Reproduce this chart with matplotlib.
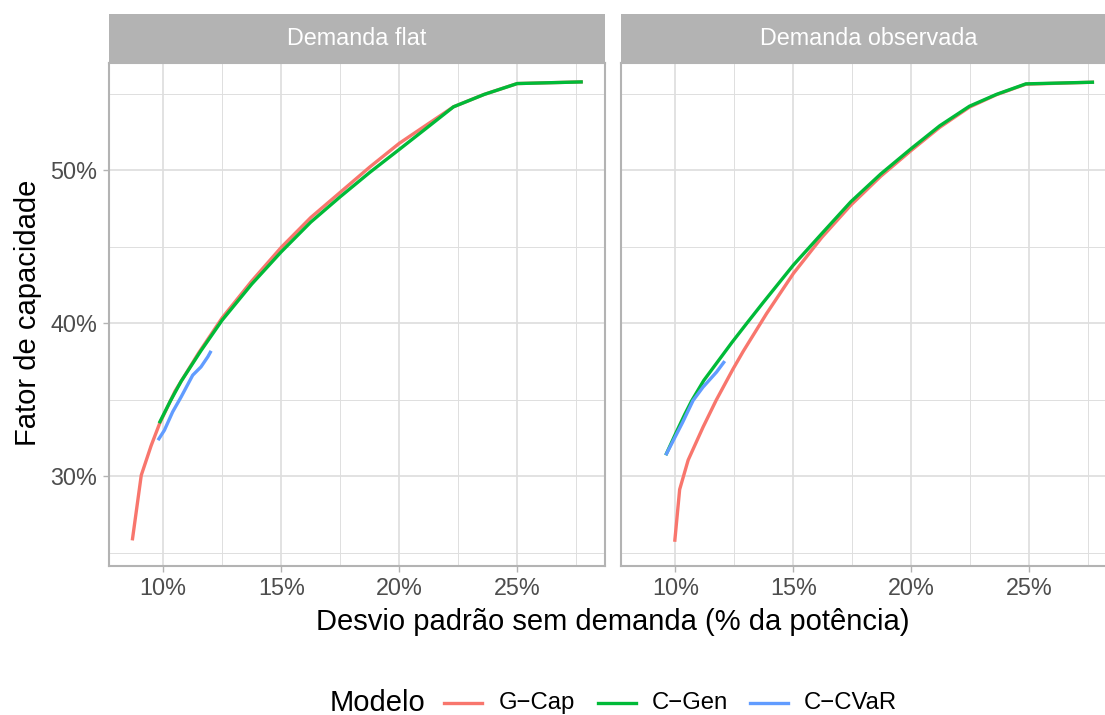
import matplotlib
matplotlib.use("Agg")
import matplotlib.pyplot as plt
from matplotlib.lines import Line2D
from matplotlib.ticker import FuncFormatter, FixedLocator

plt.rcParams['font.family'] = ['Liberation Sans', 'DejaVu Sans']

# ---- data -------------------------------------------------------------
panels = ["Demanda flat", "Demanda observada"]
modelos = ["G\u2212Cap", "C\u2212Gen", "C\u2212CVaR"]
cores = ["#F8766D", "#00BA38", "#619CFF"]

# Demanda flat
flat_gcap_x = [8.69, 9.07, 9.49, 9.85, 10.5, 11.5, 12.5, 13.75, 15.0, 16.25,
               17.5, 18.75, 20.0, 21.2, 22.3, 23.6, 25.0, 27.78]
flat_gcap_y = [25.8, 30.06, 32.0, 33.45, 35.55, 38.05, 40.35, 42.75, 44.95, 46.9,
               48.55, 50.2, 51.75, 53.0, 54.14, 54.95, 55.66, 55.77]
flat_cgen_x = [9.83, 10.3, 10.76, 11.6, 12.5, 13.75, 15.0, 16.25, 17.5, 18.75,
               20.0, 21.2, 22.3, 23.6, 25.0, 27.78]
flat_cgen_y = [33.46, 34.9, 36.2, 38.2, 40.2, 42.55, 44.66, 46.6, 48.26, 49.85,
               51.35, 52.8, 54.14, 54.95, 55.66, 55.77]
flat_ccvar_x = [9.78, 10.05, 10.4, 10.76, 11.25, 11.6, 11.89, 12.03]
flat_ccvar_y = [32.35, 33.0, 34.2, 35.18, 36.6, 37.14, 37.8, 38.19]

# Demanda observada
obs_gcap_x = [9.97, 10.18, 10.54, 11.17, 11.73, 12.44, 12.87, 13.86, 15.0, 16.2,
              17.43, 18.7, 20.0, 21.2, 22.46, 23.6, 24.85, 27.74]
obs_gcap_y = [25.71, 29.13, 31.05, 33.2, 34.97, 37.0, 38.15, 40.62, 43.25, 45.6,
              47.71, 49.6, 51.3, 52.8, 54.12, 54.93, 55.62, 55.75]
obs_cgen_x = [9.59, 10.0, 10.4, 10.68, 11.2, 11.8, 12.4, 13.08, 13.72, 15.0,
              16.2, 17.43, 18.7, 20.0, 21.2, 22.46, 23.6, 24.85, 27.74]
obs_cgen_y = [31.37, 32.75, 34.05, 34.9, 36.25, 37.5, 38.75, 40.1, 41.35, 43.8,
              45.85, 47.93, 49.75, 51.42, 52.9, 54.18, 54.95, 55.64, 55.75]
obs_ccvar_x = [9.59, 10.0, 10.3, 10.75, 11.17, 11.45, 11.74, 12.09]
obs_ccvar_y = [31.37, 32.6, 33.5, 34.95, 35.82, 36.3, 36.8, 37.52]

series = {
    "Demanda flat": [(flat_gcap_x, flat_gcap_y), (flat_cgen_x, flat_cgen_y),
                     (flat_ccvar_x, flat_ccvar_y)],
    "Demanda observada": [(obs_gcap_x, obs_gcap_y), (obs_cgen_x, obs_cgen_y),
                          (obs_ccvar_x, obs_ccvar_y)],
}

x_ticks = [10, 15, 20, 25]
x_minor = [12.5, 17.5, 22.5, 27.5]
y_ticks = [30, 40, 50]
y_minor = [25, 35, 45, 55]
xlim = (7.686, 28.72)
ylim = (24.16, 57.03)

# ---- figure -----------------------------------------------------------
W, H = 1105, 715
fig = plt.figure(figsize=(W / 100, H / 100), dpi=100)
fig.patch.set_facecolor("white")

panel_left = [108.6, 620.8]
panel_w = 496.4
panel_top, panel_bottom = 62.6, 565.5
strip_top = 14.0

grey70 = "#B3B3B3"
grey87 = "#DEDEDE"
pct = FuncFormatter(lambda v, p: f"{v:.0f}%")

for i, name in enumerate(panels):
    ax = fig.add_axes([panel_left[i] / W, (H - panel_bottom) / H,
                       panel_w / W, (panel_bottom - panel_top) / H])
    ax.set_xlim(*xlim)
    ax.set_ylim(*ylim)
    ax.xaxis.set_major_locator(FixedLocator(x_ticks))
    ax.xaxis.set_minor_locator(FixedLocator(x_minor))
    ax.yaxis.set_major_locator(FixedLocator(y_ticks))
    ax.yaxis.set_minor_locator(FixedLocator(y_minor))
    ax.xaxis.set_major_formatter(pct)
    ax.yaxis.set_major_formatter(pct)
    ax.grid(which="major", color=grey87, linewidth=1.25)
    ax.grid(which="minor", color=grey87, linewidth=0.7)
    ax.set_axisbelow(True)
    for sp in ax.spines.values():
        sp.set_color(grey70)
        sp.set_linewidth(1.5)
    ax.tick_params(which="major", length=4.3, width=1.0, color=grey70,
                   labelcolor="#4D4D4D", labelsize=16.8, pad=4)
    ax.tick_params(which="minor", length=0)
    if i > 0:
        ax.tick_params(axis="y", labelleft=False, length=0)

    for (xs, ys), c in zip(series[name], cores):
        ax.plot(xs, ys, color=c, linewidth=2.4, solid_capstyle="butt",
                solid_joinstyle="round")

    # facet strip
    sax = fig.add_axes([panel_left[i] / W, (H - panel_top) / H,
                        panel_w / W, (panel_top - strip_top) / H])
    sax.set_facecolor(grey70)
    sax.set_xticks([])
    sax.set_yticks([])
    for sp in sax.spines.values():
        sp.set_visible(False)
    sax.text(0.5, 0.5, name, color="white", fontsize=16.8, ha="center",
             va="center", transform=sax.transAxes)

# axis titles
fig.text(612.8 / W, 1 - 622 / H, "Desvio padrão sem demanda (% da potência)",
         ha="center", va="center", fontsize=21, color="black")
fig.text(28 / W, 1 - 313 / H, "Fator de capacidade", rotation=90,
         ha="center", va="center", fontsize=21, color="black")

# legend
ly = 1 - 703 / H
fig.text(330 / W, ly, "Modelo", ha="left", va="center", fontsize=21)
key_x = [444, 598, 750]
lab_x = [499, 652, 804]
for kx, lx, lab, c in zip(key_x, lab_x, modelos, cores):
    fig.add_artist(Line2D([kx / W, (kx + 38) / W], [ly, ly], color=c,
                          linewidth=2.4, transform=fig.transFigure))
    fig.text(lx / W, ly, lab, ha="left", va="center", fontsize=17.2)

fig.savefig("out.png", dpi=100)
